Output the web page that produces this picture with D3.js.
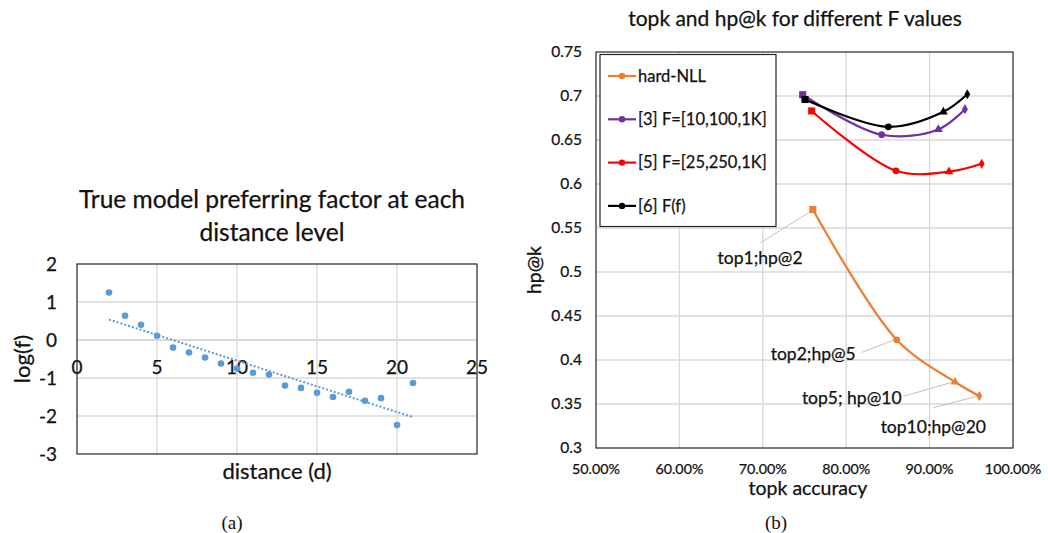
<!DOCTYPE html>
<html><head><meta charset="utf-8">
<script src="https://cdn.jsdelivr.net/npm/d3@7"></script>
<style>
body{margin:0;background:#fff}
svg{display:block}
text{font-family:Lato,'Open Sans',sans-serif;fill:#111;stroke:#111;stroke-width:0.25px}
</style>
</head><body>
<svg id="chart" width="1048" height="533"></svg>
<script>
// ---------- Panel (a) data ----------
const distances = [2,3,4,5,6,7,8,9,10,11,12,13,14,15,16,17,18,19,20,21];
const logF = [1.25,0.64,0.40,0.11,-0.20,-0.33,-0.46,-0.62,-0.75,-0.86,-0.91,-1.20,-1.26,-1.39,-1.50,-1.36,-1.60,-1.53,-2.24,-1.13];
const leftXTicks = [0,5,10,15,20,25];
const leftYTicks = [-3,-2,-1,0,1,2];

// ---------- Panel (b) data ----------
const seriesNames = ["hard-NLL","[3] F=[10,100,1K]","[5] F=[25,250,1K]","[6] F(f)"];
const seriesColors = ["#ED7D31","#7030A0","#FF0000","#000000"];
const hardNLL_acc = [0.760,0.8605,0.9305,0.9596];
const hardNLL_hp  = [0.571,0.423,0.375,0.359];
const f3_acc = [0.7478,0.8425,0.9105,0.9424];
const f3_hp  = [0.7015,0.656,0.662,0.685];
const f5_acc = [0.7586,0.8597,0.9233,0.9625];
const f5_hp  = [0.683,0.615,0.614,0.623];
const f6_acc = [0.7506,0.8505,0.9165,0.9452];
const f6_hp  = [0.696,0.665,0.682,0.702];
const pointLabels = ["top1;hp@2","top2;hp@5","top5; hp@10","top10;hp@20"];
const rightXTicks = [0.5,0.6,0.7,0.8,0.9,1.0];
const rightYTicks = [0.3,0.35,0.4,0.45,0.5,0.55,0.6,0.65,0.7,0.75];

const svg = d3.select("#chart");
svg.append("rect").attr("width",1048).attr("height",533).attr("fill","#fff");
const gridColor = "#d9d9d9";

// ================= Panel (a) =================
const ax = d3.scaleLinear().domain([0,25]).range([77,477]);
const ay = d3.scaleLinear().domain([-3,2]).range([454,264]);
const ga = svg.append("g");

ga.append("text").attr("x",272).attr("y",208).attr("text-anchor","middle")
  .style("font-size","24.5px").text("True model preferring factor at each");
ga.append("text").attr("x",272).attr("y",241).attr("text-anchor","middle")
  .style("font-size","24.5px").text("distance level");

// grid
ga.selectAll(".vg").data(leftXTicks.filter(d=>d>0&&d<25)).enter().append("line")
  .attr("x1",d=>ax(d)).attr("x2",d=>ax(d)).attr("y1",264).attr("y2",454)
  .attr("stroke",gridColor).attr("stroke-width",1.3);
ga.selectAll(".hg").data(leftYTicks.filter(d=>d>-3&&d<2)).enter().append("line")
  .attr("x1",77).attr("x2",477).attr("y1",d=>ay(d)).attr("y2",d=>ay(d))
  .attr("stroke",gridColor).attr("stroke-width",d=>d===0?1.8:1.3);
ga.append("rect").attr("x",77).attr("y",264).attr("width",400).attr("height",190)
  .attr("fill","none").attr("stroke","#262626").attr("stroke-width",1.2);

// tick labels
ga.selectAll(".yl").data(leftYTicks).enter().append("text")
  .attr("x",57).attr("y",d=>ay(d)).attr("dy","0.35em").attr("text-anchor","end")
  .style("font-size","19px").text(d=>d);
ga.selectAll(".xl").data(leftXTicks).enter().append("text")
  .attr("x",d=>ax(d)).attr("y",ay(0)+27).attr("dy","0.35em").attr("text-anchor","middle")
  .style("font-size","19px").text(d=>d);

// trendline (least squares fit of the points)
const mx = d3.mean(distances), my = d3.mean(logF);
const slope = d3.sum(distances.map((x,i)=>(x-mx)*(logF[i]-my))) / d3.sum(distances.map(x=>(x-mx)*(x-mx)));
const icpt = my - slope*mx;
const x0 = d3.min(distances), x1 = d3.max(distances);
ga.append("line").attr("x1",ax(x0)).attr("y1",ay(icpt+slope*x0))
  .attr("x2",ax(x1)).attr("y2",ay(icpt+slope*x1))
  .attr("stroke","#5B9BD5").attr("stroke-width",2).attr("stroke-dasharray","2,2");

ga.selectAll(".pt").data(distances).enter().append("circle")
  .attr("cx",d=>ax(d)).attr("cy",(d,i)=>ay(logF[i])).attr("r",3.3)
  .attr("fill","#5B9BD5");

ga.append("text").attr("x",277).attr("y",479).attr("text-anchor","middle")
  .style("font-size","22px").text("distance (d)");
ga.append("text").attr("transform","translate(30,359) rotate(-90)").attr("text-anchor","middle")
  .style("font-size","22px").text("log(f)");

svg.append("text").attr("x",232).attr("y",529).attr("text-anchor","middle")
  .style("font-family","'Liberation Serif','DejaVu Serif',serif").style("stroke-width","0")
  .style("font-size","19px").text("(a)");

// ================= Panel (b) =================
const bx = d3.scaleLinear().domain([0.5,1.0]).range([596,1013]);
const by = d3.scaleLinear().domain([0.3,0.75]).range([448,52]);
const gb = svg.append("g");

gb.append("text").attr("x",795).attr("y",26).attr("text-anchor","middle")
  .style("font-size","21px").text("topk and hp@k for different F values");

gb.selectAll(".vg").data(rightXTicks.filter(d=>d>0.5&&d<1)).enter().append("line")
  .attr("x1",d=>bx(d)).attr("x2",d=>bx(d)).attr("y1",52).attr("y2",448)
  .attr("stroke",gridColor).attr("stroke-width",1.3);
gb.selectAll(".hg").data(rightYTicks.filter(d=>d>0.31&&d<0.74)).enter().append("line")
  .attr("x1",596).attr("x2",1013).attr("y1",d=>by(d)).attr("y2",d=>by(d))
  .attr("stroke",gridColor).attr("stroke-width",1.3);
gb.append("rect").attr("x",596).attr("y",52).attr("width",417).attr("height",396)
  .attr("fill","none").attr("stroke","#262626").attr("stroke-width",1.2);

gb.selectAll(".yl").data(rightYTicks).enter().append("text")
  .attr("x",582).attr("y",d=>by(d)).attr("dy","0.35em").attr("text-anchor","end")
  .style("font-size","15.5px").text(d=>+d.toFixed(2));
gb.selectAll(".xl").data(rightXTicks).enter().append("text")
  .attr("x",d=>bx(d)).attr("y",469).attr("dy","0.35em").attr("text-anchor","middle")
  .style("font-size","14.3px").text(d=>d3.format(".2%")(d));

gb.append("text").attr("x",808).attr("y",495).attr("text-anchor","middle")
  .style("font-size","19.5px").text("topk accuracy");
gb.append("text").attr("transform","translate(541,270) rotate(-90)").attr("text-anchor","middle")
  .style("font-size","19.5px").text("hp@k");

const seriesAcc = [hardNLL_acc,f3_acc,f5_acc,f6_acc];
const seriesHp = [hardNLL_hp,f3_hp,f5_hp,f6_hp];
const markerTypes = [d3.symbolSquare,d3.symbolCircle,d3.symbolTriangle,d3.symbolDiamond];
const markerSizes = [50,36,34,30];
const line = d3.line().x(d=>bx(d[0])).y(d=>by(d[1])).curve(d3.curveCatmullRom.alpha(0.5));

// leader lines + labels for hard-NLL
const labelOffsets = [[-52.7,48],[-83.4,14.3],[-103.3,15.6],[-46,30.7]];
const leaderStart = [[-52.7,33.4],[-35,12.7],[-51.7,14.3],[-46,11.7]];
const leaderEnd = [[-3,2.5],[-2,0],[-2,0],[-1.5,0]];
pointLabels.forEach((lab,i)=>{
  const px = bx(hardNLL_acc[i]), py = by(hardNLL_hp[i]);
  gb.append("line").attr("x1",px+leaderStart[i][0]).attr("y1",py+leaderStart[i][1])
    .attr("x2",px+leaderEnd[i][0]).attr("y2",py+leaderEnd[i][1])
    .attr("stroke","#bfbfbf").attr("stroke-width",1);
  gb.append("text").attr("x",px+labelOffsets[i][0]).attr("y",py+labelOffsets[i][1])
    .attr("dy","0.35em").attr("text-anchor","middle").style("font-size","17.5px").text(lab);
});

seriesNames.forEach((name,s)=>{
  const pts = seriesAcc[s].map((a,i)=>[a,seriesHp[s][i]]);
  gb.append("path").attr("d",line(pts)).attr("fill","none")
    .attr("stroke",seriesColors[s]).attr("stroke-width",2.2);
  pts.forEach((p,i)=>{
    gb.append("path").attr("d",d3.symbol().type(markerTypes[i]).size(markerSizes[i])())
      .attr("transform",`translate(${bx(p[0])},${by(p[1])})`).attr("fill",seriesColors[s]);
  });
});

// legend
const lg = gb.append("g");
lg.append("rect").attr("x",600).attr("y",54.5).attr("width",176).attr("height",172)
  .attr("fill","#fff").attr("stroke","#262626").attr("stroke-width",1.2);
seriesNames.forEach((name,s)=>{
  const y = 76 + s*43.3;
  lg.append("line").attr("x1",608).attr("x2",636).attr("y1",y).attr("y2",y)
    .attr("stroke",seriesColors[s]).attr("stroke-width",2.2);
  lg.append("circle").attr("cx",622).attr("cy",y).attr("r",3.2).attr("fill",seriesColors[s]);
  lg.append("text").attr("x",638).attr("y",y).attr("dy","0.35em").style("font-size","16.5px").text(name);
});

svg.append("text").attr("x",776).attr("y",529).attr("text-anchor","middle")
  .style("font-family","'Liberation Serif','DejaVu Serif',serif").style("stroke-width","0")
  .style("font-size","19px").text("(b)");
</script>
</body></html>
